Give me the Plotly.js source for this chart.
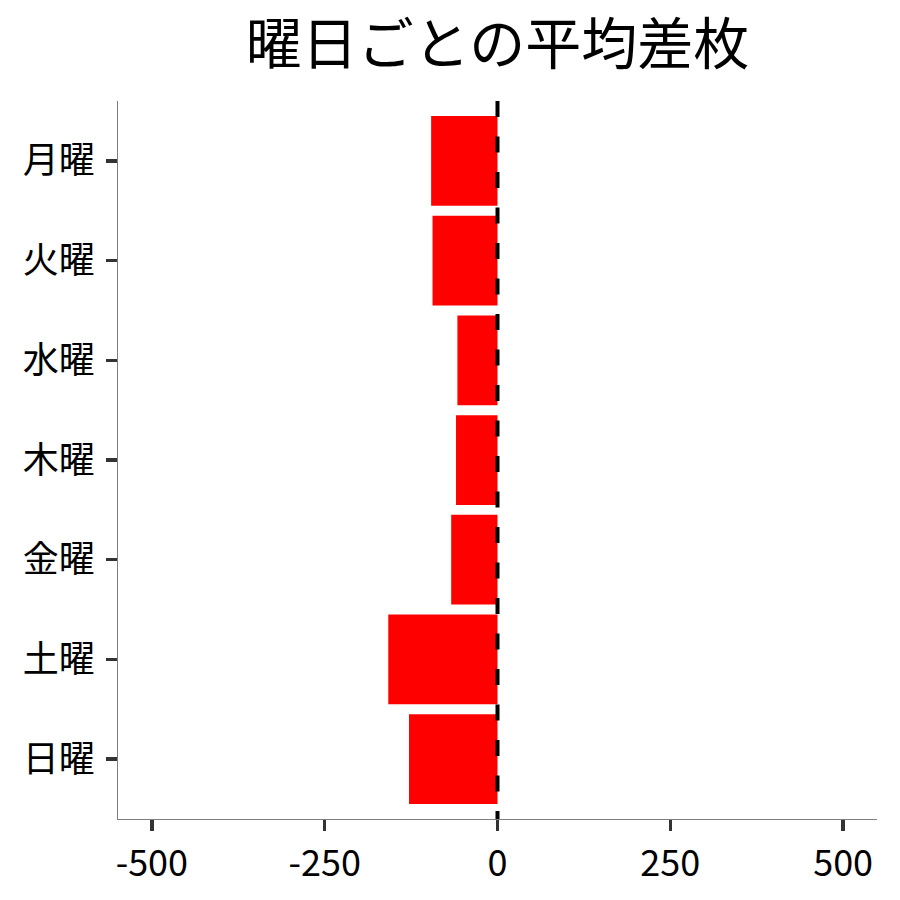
<!DOCTYPE html>
<html>
<head>
<meta charset="utf-8">
<script src="https://cdn.plot.ly/plotly-3.0.1.min.js"></script>
<style>html,body{margin:0;padding:0;background:#fff;}#chart{width:900px;height:900px;}</style>
</head>
<body>
<div id="chart"></div>
<script>
const days = ["月曜", "火曜", "水曜", "木曜", "金曜", "土曜", "日曜"];
const avgDiff = [-96, -94, -58, -60, -67, -158, -128];
const xTicks = [-500, -250, 0, 250, 500];
const xTickLabels = ["-500", "-250", "0", "250", "500"];
const titleText = "曜日ごとの平均差枚";

const font = "Noto Sans CJK JP, Noto Sans, sans-serif";

Plotly.newPlot("chart", [{
  type: "bar",
  orientation: "h",
  x: avgDiff,
  y: days,
  width: 0.9,
  marker: {color: "#FF0000", line: {width: 0}},
  hoverinfo: "x+y"
}], {
  width: 900,
  height: 900,
  paper_bgcolor: "#fff",
  plot_bgcolor: "#fff",
  margin: {l: 118, r: 23, t: 101, b: 81},
  showlegend: false,
  font: {family: font, color: "#000"},
  title: {
    text: titleText,
    font: {family: font, size: 56, color: "#000"},
    xref: "paper",
    x: 0.5, xanchor: "center",
    y: 0.951, yanchor: "middle"
  },
  xaxis: {
    range: [-549, 549],
    tickvals: xTicks,
    ticktext: xTickLabels,
    showgrid: false,
    zeroline: false,
    showline: true,
    linecolor: "#7f7f7f",
    linewidth: 1,
    ticks: "outside",
    ticklen: 11,
    tickwidth: 3.5,
    tickcolor: "#333",
    tickfont: {family: font, size: 36, color: "#000"},
    ticklabelstandoff: 2
  },
  yaxis: {
    type: "category",
    categoryorder: "array",
    categoryarray: days,
    range: [6.6, -0.6],
    showgrid: false,
    zeroline: false,
    showline: true,
    linecolor: "#7f7f7f",
    linewidth: 1,
    ticks: "outside",
    ticklen: 11,
    tickwidth: 3.5,
    tickcolor: "#333",
    tickfont: {family: font, size: 36, color: "#000"},
    ticklabelstandoff: 4
  },
  shapes: [{
    type: "line",
    xref: "x", yref: "paper",
    x0: 0, x1: 0, y0: 1, y1: 0,
    line: {color: "#000", width: 4, dash: "16px,19.5px"},
    layer: "above"
  }]
}, {displayModeBar: false, staticPlot: true});
</script>
</body>
</html>
